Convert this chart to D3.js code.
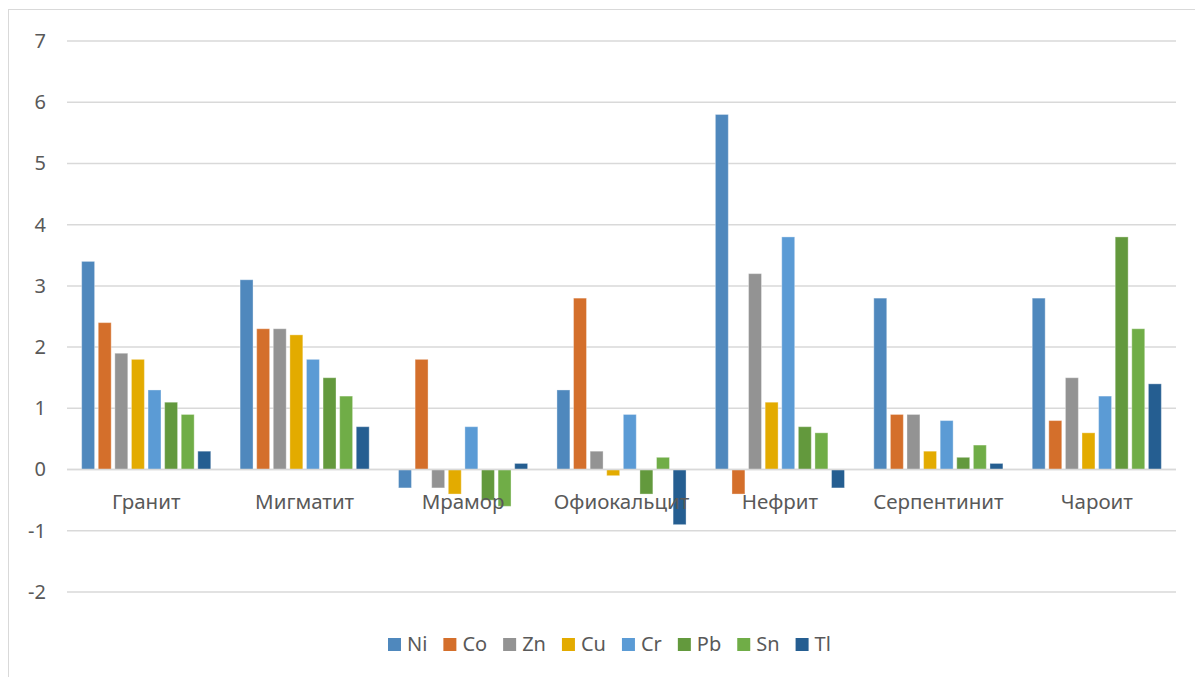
<!DOCTYPE html>
<html>
<head>
<meta charset="utf-8">
<script src="https://cdn.jsdelivr.net/npm/d3@7"></script>
<style>
  body { margin: 0; background: #fff; }
  text { font-family: "Noto Sans", "Open Sans", sans-serif; fill: #595959; }
</style>
</head>
<body>
<div id="chart"></div>
<script>
// categories (rock types) and elements
const rocks = ["Гранит", "Мигматит", "Мрамор", "Офиокальцит", "Нефрит", "Серпентинит", "Чароит"];
const elements = ["Ni", "Co", "Zn", "Cu", "Cr", "Pb", "Sn", "Tl"];
const colors = ["#4f88bd", "#d46f2b", "#939393", "#e3ab00", "#5b9bd5", "#63993d", "#70ad47", "#255e91"];

// values per element, in order of rocks
const Ni = [3.4, 3.1, -0.3, 1.3, 5.8, 2.8, 2.8];
const Co = [2.4, 2.3, 1.8, 2.8, -0.4, 0.9, 0.8];
const Zn = [1.9, 2.3, -0.3, 0.3, 3.2, 0.9, 1.5];
const Cu = [1.8, 2.2, -0.4, -0.1, 1.1, 0.3, 0.6];
const Cr = [1.3, 1.8, 0.7, 0.9, 3.8, 0.8, 1.2];
const Pb = [1.1, 1.5, -0.5, -0.4, 0.7, 0.2, 3.8];
const Sn = [0.9, 1.2, -0.6, 0.2, 0.6, 0.4, 2.3];
const Tl = [0.3, 0.7, 0.1, -0.9, -0.3, 0.1, 1.4];

const yTicks = [-2, -1, 0, 1, 2, 3, 4, 5, 6, 7];

const series = {Ni, Co, Zn, Cu, Cr, Pb, Sn, Tl};
const data = rocks.map((r, i) => {
  const row = {group: r};
  elements.forEach(e => row[e] = series[e][i]);
  return row;
});

const W = 1195, H = 677;
const margin = {top: 41, right: 19, bottom: 85, left: 67};
const width = W - margin.left - margin.right;

const svg = d3.select("#chart").append("svg")
  .attr("width", W).attr("height", H);

// outer chart border
svg.append("rect")
  .attr("x", 8.5).attr("y", 9.5)
  .attr("width", W + 10).attr("height", H + 10)
  .attr("fill", "none").attr("stroke", "#d9d9d9").attr("stroke-width", 1);

const g = svg.append("g").attr("transform", `translate(${margin.left},${margin.top})`);

// -2 sits at 592 in the picture
const y = d3.scaleLinear().domain([-2, 7]).range([592 - margin.top, 0]);

const x = d3.scaleBand().domain(rocks).range([0, width]);
const xSub = d3.scaleBand().domain(elements)
  .range([13, x.bandwidth() - 13]).paddingInner(0.22).paddingOuter(0.1);

const color = d3.scaleOrdinal().domain(elements).range(colors);

// grid lines
g.append("g").selectAll("line")
  .data(yTicks)
  .join("line")
    .attr("x1", 0).attr("x2", width)
    .attr("y1", d => y(d)).attr("y2", d => y(d))
    .attr("stroke", "#d9d9d9").attr("stroke-width", 1.5);

// y axis labels (plain hyphen for negatives, like the original)
const yAxis = g.append("g").call(d3.axisLeft(y).tickValues(yTicks).tickSize(0).tickPadding(21).tickFormat(d => String(d)));
yAxis.select(".domain").remove();
yAxis.selectAll("text").attr("font-size", 20).style("font-family", "Noto Sans").attr("fill", "#595959");

// bars
g.append("g")
  .selectAll("g")
  .data(data)
  .join("g")
    .attr("transform", d => `translate(${x(d.group)},0)`)
  .selectAll("rect")
  .data(d => elements.map(k => ({key: k, value: d[k]})))
  .join("rect")
    .attr("x", d => xSub(d.key))
    .attr("y", d => y(Math.max(0, d.value)))
    .attr("width", xSub.bandwidth())
    .attr("height", d => Math.abs(y(d.value) - y(0)))
    .attr("fill", d => color(d.key))
    .attr("stroke", "#ffffff").attr("stroke-opacity", 0.35).attr("stroke-width", 1);

// zero line on top
g.append("line")
  .attr("x1", 0).attr("x2", width)
  .attr("y1", y(0)).attr("y2", y(0))
  .attr("stroke", "#d9d9d9").attr("stroke-width", 1.5);

// category labels
g.append("g").selectAll("text")
  .data(rocks)
  .join("text")
    .attr("x", d => x(d) + x.bandwidth() / 2)
    .attr("y", y(0) + 39)
    .attr("text-anchor", "middle")
    .attr("font-size", 20.5)
    .text(d => d);

// legend
const legend = svg.append("g").attr("transform", "translate(0,651)");
let lx = 388;
elements.forEach((e, i) => {
  legend.append("rect").attr("x", lx).attr("y", -13).attr("width", 13).attr("height", 13).attr("fill", colors[i]);
  const t = legend.append("text").attr("x", lx + 19).attr("y", 0).attr("font-size", 20).text(e);
  lx += 19 + t.node().getComputedTextLength() + 16;
});
</script>
</body>
</html>
